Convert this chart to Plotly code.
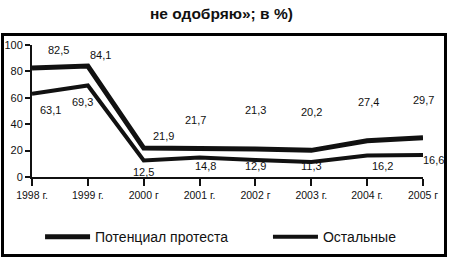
import plotly.graph_objects as go

years = ["1998 г.", "1999 г.", "2000 г", "2001 г.", "2002 г", "2003 г.", "2004 г.", "2005 г"]
protest = [82.5, 84.1, 21.9, 21.7, 21.3, 20.2, 27.4, 29.7]
others = [63.1, 69.3, 12.5, 14.8, 12.9, 11.3, 16.2, 16.6]
protest_labels = ["82,5", "84,1", "21,9", "21,7", "21,3", "20,2", "27,4", "29,7"]
others_labels = ["63,1", "69,3", "12,5", "14,8", "12,9", "11,3", "16,2", "16,6"]
y_ticks = [0, 20, 40, 60, 80, 100]

# label pixel shifts (placement only)
p_shift = [(26, 18), (13, 11), (20, 12), (-4, 28), (0, 39), (0, 38), (1, 39), (0, 38)]
o_shift = [(18, -16), (-5, -16), (0, -11), (6, -9), (0, -6), (0, -4), (15, -10), (10, -5)]

font = "Liberation Sans, Arial"

fig = go.Figure()
fig.add_trace(go.Scatter(x=list(range(len(years))), y=protest, mode="lines",
                         name="Потенциал протеста", legend="legend",
                         line=dict(color="#111111", width=5)))
fig.add_trace(go.Scatter(x=list(range(len(years))), y=others, mode="lines",
                         name="Остальные", legend="legend2",
                         line=dict(color="#111111", width=4)))

# outer frame drawn as an empty bordered annotation box
fig.add_annotation(x=0.491, xref="paper", y=0.2424, yref="paper", xanchor="center", yanchor="middle",
                   text="\u00a0", showarrow=False, width=440, height=218, borderpad=0,
                   bordercolor="#000000", borderwidth=2, bgcolor="rgba(0,0,0,0)")

for i, (v, t) in enumerate(zip(protest, protest_labels)):
    fig.add_annotation(x=i, y=v, text=t, showarrow=False, xshift=p_shift[i][0], yshift=p_shift[i][1],
                       font=dict(family=font, size=11, color="#111"))
for i, (v, t) in enumerate(zip(others, others_labels)):
    fig.add_annotation(x=i, y=v, text=t, showarrow=False, xshift=o_shift[i][0], yshift=o_shift[i][1],
                       font=dict(family=font, size=11, color="#111"))

fig.add_annotation(x=0.5, xref="paper", y=1.0, yref="paper", yanchor="middle", xshift=-6,
                   yshift=(45 - 13), text="<b>не одобряю»; в %)</b>", showarrow=False,
                   font=dict(family=font, size=15.5, color="#111"))

fig.add_shape(type="rect", xref="paper", yref="paper", layer="above",
              x0=-0.0767, x1=1.0588, y0=-0.598, y1=1.0833,
              line=dict(color="#000000", width=2))

leg_common = dict(orientation="h", y=-0.455, yanchor="middle", xanchor="left",
                  font=dict(family=font, size=14, color="#111"),
                  itemwidth=45, bgcolor="rgba(0,0,0,0)")

fig.update_layout(
    width=449, height=258,
    margin=dict(l=32, r=26, t=45, b=81, autoexpand=False),
    paper_bgcolor="white", plot_bgcolor="white",
    showlegend=True,
    legend=dict(x=0.0206, **leg_common),
    legend2=dict(x=0.6035, **leg_common),
    xaxis=dict(range=[0, 7], tickmode="array", tickvals=list(range(len(years))), ticktext=years,
               automargin=False,
               showgrid=False, zeroline=False, showline=True, linecolor="#111", linewidth=2,
               ticks="outside", ticklen=7, tickwidth=2, tickcolor="#111",
               tickfont=dict(family=font, size=10.5, color="#111")),
    yaxis=dict(range=[0, 100], tickmode="array", tickvals=y_ticks, automargin=False,
               showgrid=False, zeroline=False, showline=True, linecolor="#111", linewidth=2,
               ticks="outside", ticklen=5, tickwidth=2, tickcolor="#111",
               tickfont=dict(family=font, size=11, color="#111")),
)

fig.write_html("out.html", config={"displayModeBar": False},
               post_script="document.body.style.margin='0';document.body.style.padding='0';")
